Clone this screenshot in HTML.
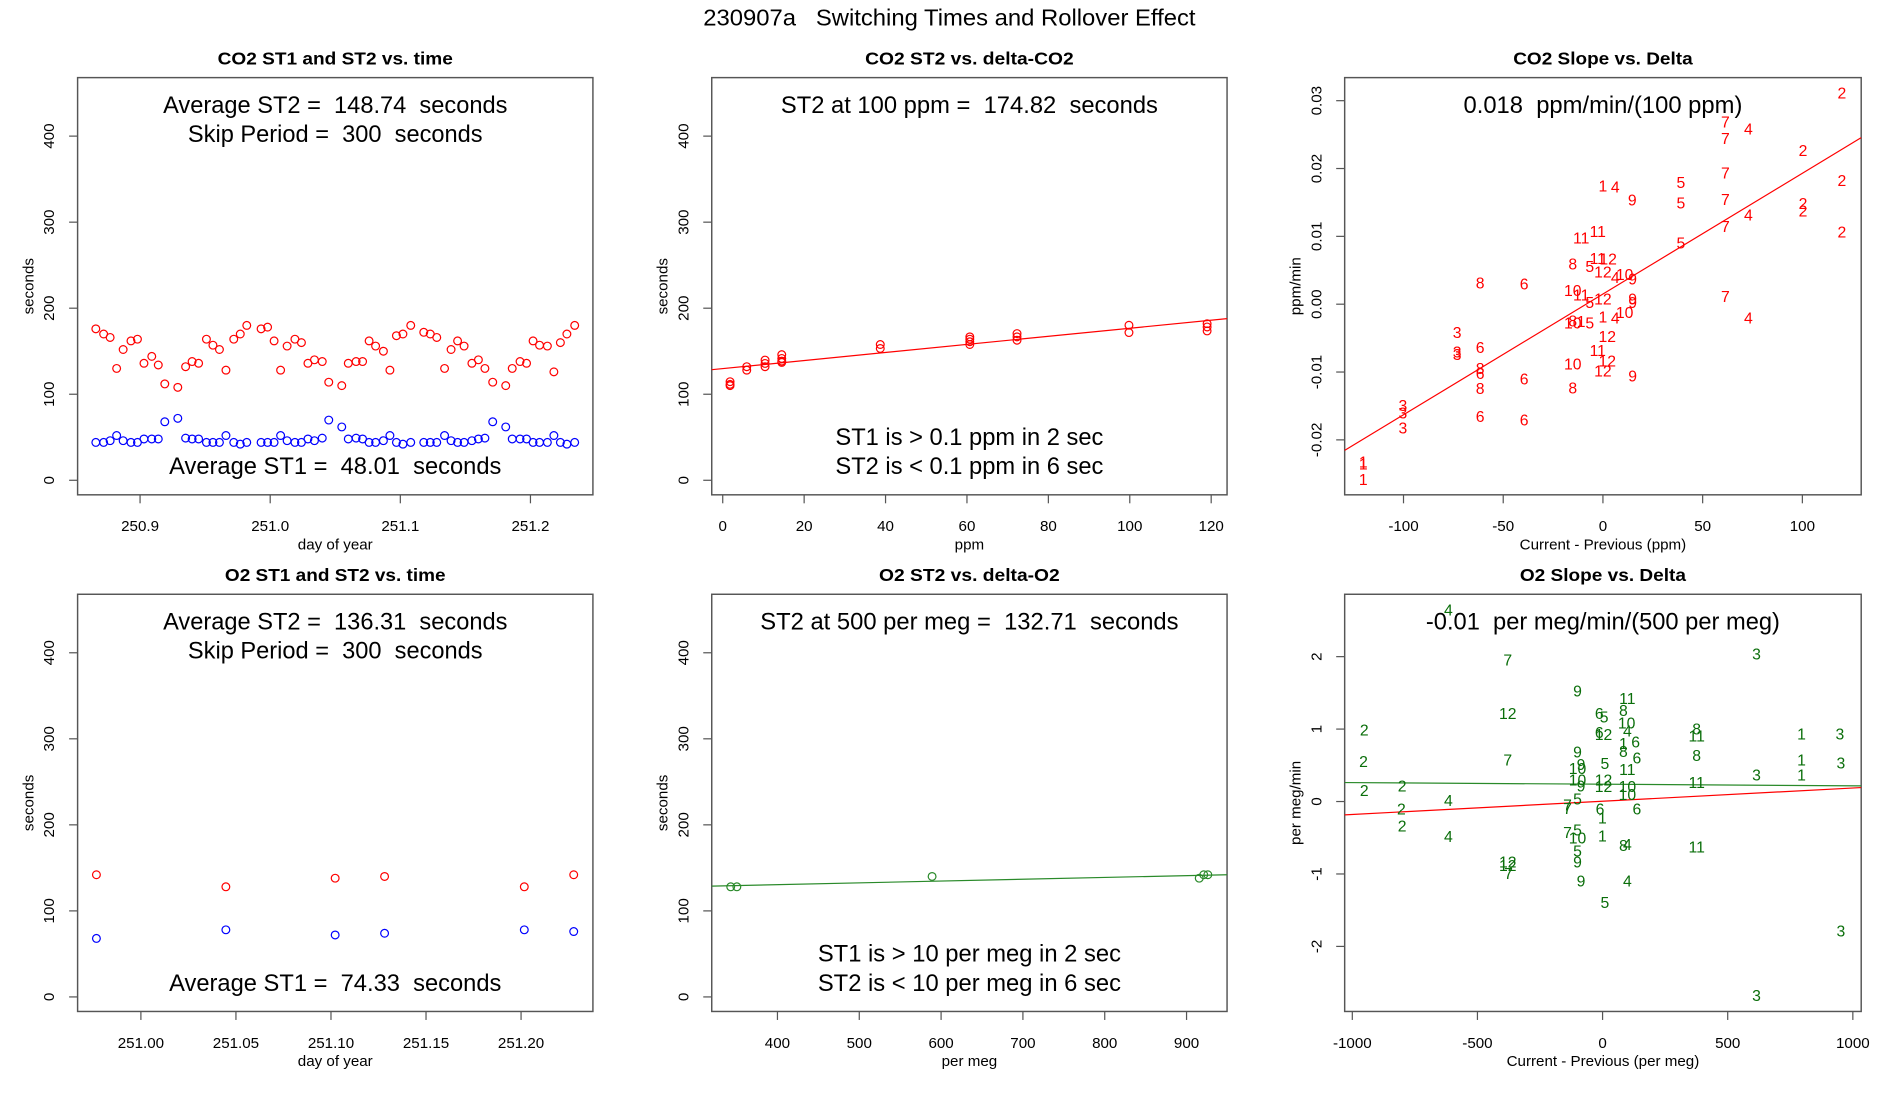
<!DOCTYPE html>
<html><head><meta charset="utf-8">
<style>
html,body{margin:0;padding:0;background:#fff;}
svg{display:block;font-family:"Liberation Sans",Arial,sans-serif;}
svg text{white-space:pre;}
</style></head>
<body>
<svg id="chart" width="1900" height="1100" viewBox="0 0 1567 907" preserveAspectRatio="none" xmlns="http://www.w3.org/2000/svg" xml:space="preserve">
<rect x="0" y="0" width="1567" height="907" fill="#fff"/>
<text x="783" y="21" text-anchor="middle" font-size="19" textLength="406" lengthAdjust="spacingAndGlyphs">230907a   Switching Times and Rollover Effect</text>
</svg>
<script>
// ---- Panel 1: CO2 ST1/ST2 vs time ----
const co2Time=[250.866,250.872,250.877,250.882,250.887,250.893,250.898,250.903,250.909,250.914,
250.919,250.929,250.935,250.940,250.945,250.951,250.956,250.961,250.966,250.972,
250.977,250.982,250.993,250.998,251.003,251.008,251.013,251.019,251.024,251.029,
251.034,251.040,251.045,251.055,251.060,251.066,251.071,251.076,251.081,251.087,
251.092,251.097,251.102,251.108,251.118,251.123,251.128,251.134,251.139,251.144,
251.149,251.155,251.160,251.165,251.171,251.181,251.186,251.192,251.197,251.202,
251.207,251.213,251.218,251.223,251.228,251.234];
const co2ST2=[176,170,166,130,152,162,164,136,144,134,
112,108,132,138,136,164,157,152,128,164,
170,180,176,178,162,128,156,164,160,136,
140,138,114,110,136,138,138,162,156,150,
128,168,170,180,172,170,166,130,152,162,
156,136,140,130,114,110,130,138,136,162,
157,156,126,160,170,180];
const co2ST1=[44,44,46,52,46,44,44,48,48,48,
68,72,49,48,48,44,44,44,52,44,
42,44,44,44,44,52,46,44,44,48,
46,49,70,62,48,49,48,44,44,46,
52,44,42,44,44,44,44,52,46,44,
44,46,48,49,68,62,48,48,48,44,
44,44,52,44,42,44];
// ---- Panel 2: CO2 ST2 vs delta ----
const co2DeltaPpm=[1.8,1.8,1.8,5.9,5.9,10.4,10.4,10.4,14.5,14.5,14.5,14.5,38.7,38.7,60.7,60.7,60.7,60.7,72.3,72.3,72.3,99.8,99.8,119,119,119];
const co2DeltaST2=[114.6,111.5,110,132,128,139.7,135.8,132,146,141.6,138.5,137,157.8,153.2,166.7,164,161,157.8,170.5,166.7,162.8,180.2,171.7,182,178.2,173.6];
const co2DeltaFit=[129.8,0.469];
// ---- Panel 3: CO2 slope vs delta ----
const co2SlopeLabels=["2","7","4","7","2","7","2","1","4","5","9","5","7","2","2","4","2","7","11","11","5","8","5","11","12","12","4","10","9","8","6","10","11","5","12","9","9","7","1","4","10","8","10","1","5","4","3","12","6","3","3","11","8","6","10","12","12","9","6","8","8","3","3","3","6","6","1","1","1"];
const co2SlopeDelta=[119.8,61.4,72.9,61.4,100.3,61.4,119.8,0,6.2,39.1,14.7,39.1,61.4,100.3,100.3,72.9,119.8,61.4,-10.9,-2.6,39.1,-15.1,-6.6,-2.6,2.6,0,6.2,10.9,14.9,-61.6,-39.5,-15.1,-10.9,-6.6,0,14.9,14.9,61.4,0,6.2,10.9,-15.1,-15.1,-10.9,-6.6,72.9,-73.1,2.2,-61.6,-73.1,-73.1,-2.6,-61.6,-61.6,-15.1,2.2,0,14.9,-39.5,-61.6,-15.1,-100.3,-100.3,-100.3,-61.6,-39.5,-120.2,-120.2,-120.2];
const co2SlopeValue=[0.0310,0.0267,0.0257,0.0243,0.0225,0.0192,0.0181,0.0173,0.0171,0.0178,0.0152,0.0148,0.0153,0.0147,0.0136,0.0130,0.0105,0.0113,0.0096,0.0106,0.0089,0.0058,0.0054,0.0066,0.0065,0.0046,0.0038,0.0042,0.0036,0.0030,0.0028,0.0019,0.0012,0.0001,0.0006,0.0006,0.0001,0.0010,-0.0020,-0.0022,-0.0014,-0.0026,-0.0029,-0.0027,-0.0029,-0.0022,-0.0043,-0.0049,-0.0065,-0.0072,-0.0076,-0.0070,-0.0096,-0.0104,-0.0090,-0.0085,-0.0100,-0.0107,-0.0112,-0.0126,-0.0125,-0.0151,-0.0162,-0.0184,-0.0167,-0.0172,-0.0234,-0.0237,-0.0260];
const co2SlopeFit=[0.0015,0.000178];
// ---- Panel 4: O2 ST1/ST2 vs time ----
const o2Time=[250.9766,251.0447,251.1022,251.1282,251.2017,251.2277];
const o2ST2=[142,128,138,140,128,142];
const o2ST1=[68,78,72,74,78,76];
// ---- Panel 5: O2 ST2 vs delta ----
const o2DeltaPerMeg=[342.9,350.4,589,915.5,921,926];
const o2DeltaST2=[128,128,140,138,142,142];
const o2DeltaFit=[122.1,0.02096];
// ---- Panel 6: O2 slope vs delta ----
const o2SlopeLabels=["4","7","3","9","11","8","12","6","5","10","2","6","12","4","8","11","1","3","1","6","8","9","7","2","6","8","5","1","3","9","10","11","3","1","10","9","12","12","10","11","2","2","10","5","4","7","7","2","6","1","6","2","7","5","10","1","4","8","4","11","5","9","12","12","7","9","4","5","3","3"];
const o2SlopeDelta=[-616,-379,615,-100,99,83,-379,-13,6,96,-952,-13,4,99,376,376,795,948,83,132,83,-100,-379,-955,137,376,9,795,952,-86,-100,99,615,795,-100,-86,4,4,99,376,-952,-801,99,-100,-616,-140,-140,-804,-10,-1,137,-801,-140,-100,-100,-1,-616,83,99,376,-100,-100,-379,-379,-376,-86,99,9,952,615];
const o2SlopeValue=[2.63,1.94,2.02,1.51,1.41,1.24,1.20,1.20,1.15,1.07,0.97,0.94,0.91,0.96,0.99,0.89,0.92,0.92,0.79,0.81,0.68,0.67,0.56,0.54,0.59,0.62,0.51,0.56,0.52,0.50,0.44,0.43,0.35,0.35,0.28,0.20,0.28,0.19,0.19,0.25,0.14,0.20,0.08,0.02,0.00,-0.06,-0.11,-0.12,-0.12,-0.24,-0.12,-0.35,-0.44,-0.41,-0.52,-0.49,-0.50,-0.62,-0.61,-0.64,-0.70,-0.85,-0.85,-0.90,-1.01,-1.11,-1.11,-1.41,-1.80,-2.69];
const o2SlopeFitGreen=[0.239,-0.0000223];
const o2SlopeFitRed=[0.004,0.0001827];

const NS="http://www.w3.org/2000/svg";
const svg=document.getElementById('chart');
function el(tag,attrs,parent){const e=document.createElementNS(NS,tag);for(const k in attrs)e.setAttribute(k,attrs[k]);(parent||svg).appendChild(e);return e;}
function txt(s,attrs,parent){const e=el('text',attrs,parent);e.textContent=s;return e;}

function panel(name,box,xr,yr,xticks,xtl,yticks,ytl,title,titleW,xlab,ylab){
  const g=el('g',{});
  
  
  const sx=v=>box[0]+(v-xr[0])/(xr[1]-xr[0])*(box[2]-box[0]);
  const sy=v=>box[3]-(v-yr[0])/(yr[1]-yr[0])*(box[3]-box[1]);
  const t=txt(title,{x:(box[0]+box[2])/2,y:box[1]-11,'text-anchor':'middle','font-size':14.5,'font-weight':'bold',textLength:titleW,lengthAdjust:'spacingAndGlyphs'},g);
  
  
  const r=el('rect',{x:box[0],y:box[1],width:box[2]-box[0],height:box[3]-box[1],fill:'none',stroke:'#555','stroke-width':1.2},g);
  
  
  xticks.forEach((v,i)=>{
    const X=sx(v);
    el('line',{x1:X,x2:X,y1:box[3],y2:box[3]+7,stroke:'#555','stroke-width':1},g);
    const l=txt(xtl[i],{x:X,y:box[3]+30,'text-anchor':'middle','font-size':12.5},g);
    
    
  });
  yticks.forEach((v,i)=>{
    const Y=sy(v);
    el('line',{x1:box[0],x2:box[0]-7,y1:Y,y2:Y,stroke:'#555','stroke-width':1},g);
    const X=box[0]-23;
    const l=txt(ytl[i],{x:X,y:Y,'text-anchor':'middle','dominant-baseline':'central','font-size':12.5,transform:`rotate(-90 ${X} ${Y})`},g);
    
    
  });
  const xl=txt(xlab,{x:(box[0]+box[2])/2,y:box[3]+45,'text-anchor':'middle','font-size':12.5},g);
  
  
  const yx=box[0]-40,yy=(box[1]+box[3])/2;
  const yl=txt(ylab,{x:yx,y:yy,'text-anchor':'middle','dominant-baseline':'central','font-size':12.5,transform:`rotate(-90 ${yx} ${yy})`},g);
  
  
  return {g,sx,sy,box};
}
function note(p,s,y,w){
  const e=txt(s,{x:(p.box[0]+p.box[2])/2,y:y,'text-anchor':'middle','font-size':20,textLength:w,lengthAdjust:'spacingAndGlyphs'},p.g);
  
  
}
function circles(p,xs,ys,color,name){
  xs.forEach((v,i)=>{
    const c=el('circle',{cx:p.sx(v),cy:p.sy(ys[i]),r:3.2,fill:'none',stroke:color,'stroke-width':1},p.g);
    
    
  });
}
function fitLine(p,xr,fit,color,name){
  const l=el('line',{x1:p.sx(xr[0]),y1:p.sy(fit[0]+fit[1]*xr[0]),x2:p.sx(xr[1]),y2:p.sy(fit[0]+fit[1]*xr[1]),stroke:color,'stroke-width':1},p.g);
  
  
}
function labels(p,xs,ys,labs,color,name){
  xs.forEach((v,i)=>{
    const t=txt(labs[i],{x:p.sx(v),y:p.sy(ys[i]),'text-anchor':'middle','dominant-baseline':'central','font-size':13,fill:color},p.g);
    
    
  });
}
const secTicks=[0,100,200,300,400], secTL=["0","100","200","300","400"];
const secR=[-16.9,468];

const p1=panel('panel-co2-time',[64,64,489,408],[250.852,251.248],secR,[250.9,251.0,251.1,251.2],["250.9","251.0","251.1","251.2"],secTicks,secTL,'CO2 ST1 and ST2 vs. time',194,'day of year','seconds');
circles(p1,co2Time,co2ST2,'#ff0000','st2-point');
circles(p1,co2Time,co2ST1,'#0000ff','st1-point');
note(p1,'Average ST2 =  148.74  seconds',93,284);
note(p1,'Skip Period =  300  seconds',117,243);
note(p1,'Average ST1 =  48.01  seconds',391,274);

const p2=panel('panel-co2-delta',[587,64,1012,408],[-2.7,123.9],secR,[0,20,40,60,80,100,120],["0","20","40","60","80","100","120"],secTicks,secTL,'CO2 ST2 vs. delta-CO2',172,'ppm','seconds');
fitLine(p2,[-2.7,123.9],co2DeltaFit,'#ff0000','fit-line');
circles(p2,co2DeltaPpm,co2DeltaST2,'#ff0000','st2-point');
note(p2,'ST2 at 100 ppm =  174.82  seconds',93,311);
note(p2,'ST1 is > 0.1 ppm in 2 sec',367,221);
note(p2,'ST2 is < 0.1 ppm in 6 sec',391,221);

const p3=panel('panel-co2-slope',[1109,64,1535,408],[-129.5,129.5],[-0.0281,0.0334],[-100,-50,0,50,100],["-100","-50","0","50","100"],[-0.02,-0.01,0,0.01,0.02,0.03],["-0.02","-0.01","0.00","0.01","0.02","0.03"],'CO2 Slope vs. Delta',148,'Current - Previous (ppm)','ppm/min');
fitLine(p3,[-129.5,129.5],co2SlopeFit,'#ff0000','fit-line');
labels(p3,co2SlopeDelta,co2SlopeValue,co2SlopeLabels,'#ff0000','month-label');
note(p3,'0.018  ppm/min/(100 ppm)',93,230);

const p4=panel('panel-o2-time',[64,490,489,834],[250.9667,251.2378],secR,[251.00,251.05,251.10,251.15,251.20],["251.00","251.05","251.10","251.15","251.20"],secTicks,secTL,'O2 ST1 and ST2 vs. time',182,'day of year','seconds');
circles(p4,o2Time,o2ST2,'#ff0000','st2-point');
circles(p4,o2Time,o2ST1,'#0000ff','st1-point');
note(p4,'Average ST2 =  136.31  seconds',519,284);
note(p4,'Skip Period =  300  seconds',543,243);
note(p4,'Average ST1 =  74.33  seconds',817,274);

const p5=panel('panel-o2-delta',[587,490,1012,834],[319.7,949.5],secR,[400,500,600,700,800,900],["400","500","600","700","800","900"],secTicks,secTL,'O2 ST2 vs. delta-O2',149,'per meg','seconds');
fitLine(p5,[319.7,949.5],o2DeltaFit,'#2a8a2a','fit-line');
circles(p5,o2DeltaPerMeg,o2DeltaST2,'#2a8a2a','st2-point');
note(p5,'ST2 at 500 per meg =  132.71  seconds',519,345);
note(p5,'ST1 is > 10 per meg in 2 sec',793,250);
note(p5,'ST2 is < 10 per meg in 6 sec',817,250);

const p6=panel('panel-o2-slope',[1109,490,1535,834],[-1030.5,1033.4],[-2.898,2.861],[-1000,-500,0,500,1000],["-1000","-500","0","500","1000"],[-2,-1,0,1,2],["-2","-1","0","1","2"],'O2 Slope vs. Delta',137,'Current - Previous (per meg)','per meg/min');
fitLine(p6,[-1030.5,1033.4],o2SlopeFitGreen,'#2a8a2a','fit-line-green');
fitLine(p6,[-1030.5,1033.4],o2SlopeFitRed,'#ff0000','fit-line-red');
labels(p6,o2SlopeDelta,o2SlopeValue,o2SlopeLabels,'#0a6e0a','month-label');
note(p6,'-0.01  per meg/min/(500 per meg)',519,292);
</script>
</body></html>
